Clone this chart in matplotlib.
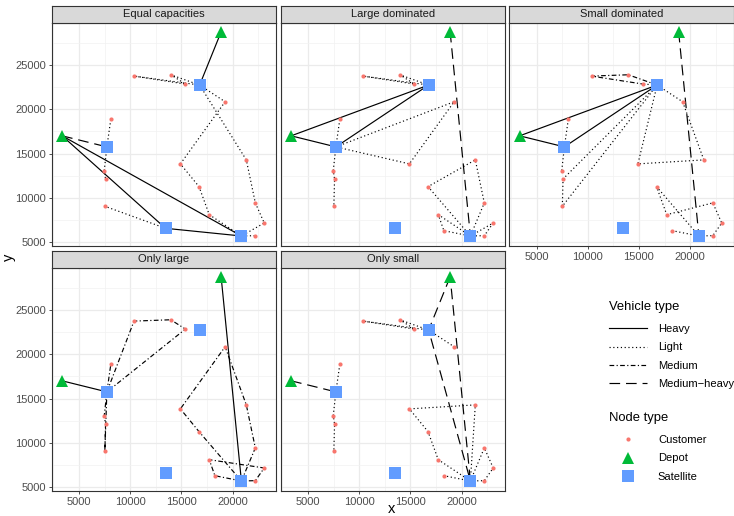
import matplotlib
matplotlib.use("Agg")
import matplotlib.pyplot as plt
from matplotlib.lines import Line2D
from matplotlib.ticker import MultipleLocator

plt.rcParams["font.family"] = ["Liberation Sans", "DejaVu Sans"]

# node coordinates
node_id = ["D1", "D2", "S1", "S2", "S3", "S4",
           "c1", "c2", "c3", "c4", "c5", "c6", "c7", "c8",
           "c9", "c10", "c11", "c12", "c13", "c14", "c15", "c16"]
node_x = [3350, 18880, 7720, 16780, 13450, 20860,
          8110, 7460, 7590, 7520, 10370, 13960, 15390, 19270,
          14900, 21340, 16720, 22220, 17720, 23090, 18270, 22220]
node_y = [17000, 28750, 15750, 22740, 6550, 5680,
          18920, 13040, 12130, 9040, 23750, 23900, 22850, 20850,
          13830, 14280, 11260, 9420, 8090, 7150, 6280, 5720]
node_kind = ["Depot"] * 2 + ["Satellite"] * 4 + ["Customer"] * 16

# routes for each scenario: (vehicle type, visiting order)
routes_equal = [
    ("Heavy", ["D2", "S2"]),
    ("Heavy", ["D1", "S3", "S4", "D1"]),
    ("Medium-heavy", ["D1", "S1"]),
    ("Light", ["S1", "c1"]),
    ("Light", ["S1", "c2", "c3"]),
    ("Light", ["S3", "c4"]),
    ("Light", ["S2", "c6", "c7", "c5", "S2"]),
    ("Light", ["S2", "c8", "c9", "c11", "c13", "S4"]),
    ("Light", ["S2", "c10", "c12", "c14", "S4", "c16"]),
]
routes_large = [
    ("Heavy", ["D1", "S2", "S1", "D1"]),
    ("Medium-heavy", ["D2", "S4"]),
    ("Light", ["S1", "c1"]),
    ("Light", ["S1", "c2", "c3", "c4"]),
    ("Light", ["S1", "c8", "c9", "S1"]),
    ("Light", ["S2", "c6", "c7", "c5", "S2"]),
    ("Light", ["S4", "c11", "c10", "c12", "S4"]),
    ("Light", ["S4", "c13", "c15", "S4"]),
    ("Light", ["S4", "c14", "c16", "S4"]),
]
routes_small = [
    ("Heavy", ["D1", "S2", "S1", "D1"]),
    ("Medium-heavy", ["D2", "S4"]),
    ("Medium", ["S2", "c6", "c5", "c7", "S2"]),
    ("Light", ["S1", "c1"]),
    ("Light", ["S1", "c2"]),
    ("Light", ["S2", "c3", "c4", "S2"]),
    ("Light", ["S2", "c9", "c10", "c8", "S2"]),
    ("Light", ["S4", "c11", "c13", "c12", "c14", "c16", "S4"]),
    ("Light", ["S4", "c15"]),
]
routes_only_large = [
    ("Heavy", ["D1", "S1"]),
    ("Heavy", ["D2", "S4"]),
    ("Medium", ["S1", "c1"]),
    ("Medium", ["S1", "c2", "c3", "c4", "S1"]),
    ("Medium", ["S1", "c5", "c6", "c7", "S1"]),
    ("Medium", ["S4", "c11", "c9", "c8", "c10", "c12", "S4"]),
    ("Medium", ["S4", "c15", "c13", "c14", "c16", "S4"]),
]
routes_only_small = [
    ("Medium-heavy", ["D1", "S1"]),
    ("Medium-heavy", ["D2", "S2", "S4", "D2"]),
    ("Light", ["S1", "c1"]),
    ("Light", ["S1", "c2", "c3", "c4"]),
    ("Light", ["S2", "c6", "c7", "c5", "S2"]),
    ("Light", ["S2", "c8"]),
    ("Light", ["S4", "c13", "c11", "c9", "c10", "S4"]),
    ("Light", ["S4", "c12", "c14", "c16", "S4"]),
    ("Light", ["S4", "c15"]),
]

panels = [
    ("Equal capacities", routes_equal, ["c15"]),
    ("Large dominated", routes_large, []),
    ("Small dominated", routes_small, []),
    ("Only large", routes_only_large, []),
    ("Only small", routes_only_small, []),
]

vehicle_types = ["Heavy", "Light", "Medium", "Medium-heavy"]
vehicle_labels = ["Heavy", "Light", "Medium", "Medium\u2212heavy"]
line_styles = {
    "Heavy": "-",
    "Light": (0, (1, 2.2)),
    "Medium": (0, (4, 2, 1, 2)),
    "Medium-heavy": (0, (9, 5)),
}
node_types = ["Customer", "Depot", "Satellite"]
node_style = {
    "Customer": dict(marker="o", color="#F8766D", ms=3.0),
    "Depot": dict(marker="^", color="#00BA38", ms=8),
    "Satellite": dict(marker="s", color="#619CFF", ms=8.4),
}

W, H = 734, 516
fig = plt.figure(figsize=(W / 100, H / 100), dpi=100)


def rect(left, top, w, h):
    return [left / W, 1 - (top + h) / H, w / W, h / H]


pos = {n: (x, y) for n, x, y in zip(node_id, node_x, node_y)}
col_left = [51.5, 280.5, 509.0]
row_top = [23.0, 268.0]
pw, ph, sh = 224.5, 223.0, 17.5
grey20 = "#333333"
lw = 0.85

for i, (title, routes, hidden) in enumerate(panels):
    r, c = divmod(i, 3)
    ax = fig.add_axes(rect(col_left[c], row_top[r], pw, ph))
    ax.set_xlim(2310, 24240)
    ax.set_ylim(4550, 29750)
    ax.xaxis.set_major_locator(MultipleLocator(5000))
    ax.xaxis.set_minor_locator(MultipleLocator(2500))
    ax.yaxis.set_major_locator(MultipleLocator(5000))
    ax.yaxis.set_minor_locator(MultipleLocator(2500))
    ax.grid(which="major", color="#EBEBEB", lw=0.9)
    ax.grid(which="minor", color="#F2F2F2", lw=0.5)
    ax.set_axisbelow(True)
    ax.tick_params(which="minor", length=0)
    ax.tick_params(which="major", length=2.5, width=0.6, color=grey20,
                   labelsize=8.0, labelcolor="#4D4D4D", pad=1.5)
    for s in ax.spines.values():
        s.set_color(grey20)
        s.set_linewidth(0.8)

    show_x = (r == 1) or (c == 2)
    show_y = c == 0
    if not show_x:
        ax.tick_params(axis="x", length=0, labelbottom=False)
    if not show_y:
        ax.tick_params(axis="y", length=0, labelleft=False)

    for vtype, stops in routes:
        xs = [pos[s][0] for s in stops]
        ys = [pos[s][1] for s in stops]
        ax.plot(xs, ys, color="black", lw=lw, linestyle=line_styles[vtype],
                zorder=2)

    for kind in node_types:
        xs = [x for n, x, k in zip(node_id, node_x, node_kind)
              if k == kind and n not in hidden]
        ys = [y for n, y, k in zip(node_id, node_y, node_kind)
              if k == kind and n not in hidden]
        st = node_style[kind]
        ax.plot(xs, ys, linestyle="none", marker=st["marker"],
                color=st["color"], ms=st["ms"], mew=0, zorder=3)

    strip = fig.add_axes(rect(col_left[c], row_top[r] - sh, pw, sh))
    strip.set_facecolor("#D9D9D9")
    strip.set_xticks([])
    strip.set_yticks([])
    for s in strip.spines.values():
        s.set_color(grey20)
        s.set_linewidth(0.8)
    strip.text(0.5, 0.5, title, ha="center", va="center", fontsize=8.0,
               color="#1A1A1A", transform=strip.transAxes)

fig.text(392 / W, 1 - 509 / H, "x", ha="center", va="center", fontsize=10.5)
fig.text(9 / W, 1 - 257 / H, "y", ha="center", va="center", fontsize=10.5,
         rotation=90)

legend_kw = dict(loc="upper left", frameon=False, fontsize=8.0,
                 title_fontsize=9.4, handlelength=3.4, handletextpad=1.0,
                 labelspacing=0.75, borderpad=0, borderaxespad=0,
                 alignment="left")

veh_handles = [Line2D([], [], color="black", lw=lw, linestyle=line_styles[v])
               for v in vehicle_types]
leg1 = fig.legend(veh_handles, vehicle_labels, title="Vehicle type",
                  bbox_to_anchor=(609 / W, 1 - 301 / H), **legend_kw)
leg1._legend_box.sep = 8

node_handles = [Line2D([], [], linestyle="none", marker=node_style[k]["marker"],
                       color=node_style[k]["color"], ms=node_style[k]["ms"], mew=0)
                for k in node_types]
leg2 = fig.legend(node_handles, node_types, title="Node type",
                  bbox_to_anchor=(609 / W, 1 - 412 / H), **legend_kw)
leg2._legend_box.sep = 8

fig.savefig("out.png", dpi=100)
